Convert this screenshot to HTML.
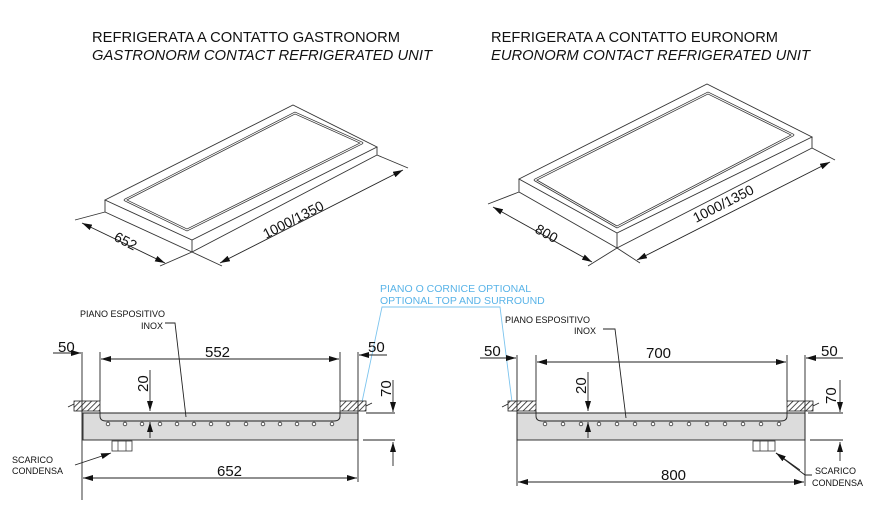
<!DOCTYPE html>
<html><head><meta charset="utf-8"><style>
html,body{margin:0;padding:0;background:#fff}
svg{display:block}
text{font-family:"Liberation Sans",Arial,sans-serif;fill:#111}
</style></head><body>
<svg width="881" height="516" viewBox="0 0 881 516" xmlns="http://www.w3.org/2000/svg">
<defs>
<pattern id="h" width="4" height="4" patternUnits="userSpaceOnUse" patternTransform="rotate(45)">
<rect width="4" height="4" fill="#fff"/><line x1="0" y1="0" x2="0" y2="4" stroke="#222" stroke-width="1.6"/></pattern>
<marker id="a" viewBox="0 0 10 6" refX="10" refY="3" markerWidth="10" markerHeight="6" orient="auto-start-reverse" markerUnits="userSpaceOnUse">
<path d="M0,0 L10,3 L0,6 z" fill="#111"/></marker>
</defs>

<text x="92" y="42" font-size="15" textLength="308" lengthAdjust="spacingAndGlyphs">REFRIGERATA A CONTATTO GASTRONORM</text>
<text x="92" y="60" font-size="15" font-style="italic" textLength="340" lengthAdjust="spacingAndGlyphs">GASTRONORM CONTACT REFRIGERATED UNIT</text>
<text x="491" y="42" font-size="15" textLength="287" lengthAdjust="spacingAndGlyphs">REFRIGERATA A CONTATTO EURONORM</text>
<text x="491" y="60" font-size="15" font-style="italic" textLength="319" lengthAdjust="spacingAndGlyphs">EURONORM CONTACT REFRIGERATED UNIT</text>

<g fill="none" stroke="#333" stroke-width="0.9">
<polygon points="105,200 293,105 377,147 192,240" fill="#fff"/>
<polyline points="105,200 105,212 192,252 377,155 377,147"/>
<line x1="192" y1="240" x2="192" y2="252"/>
<polygon points="125,200 295,113 362,143 187,230" stroke-linejoin="round" stroke-width="2.5"/>
<polygon points="125,200 295,113 362,143 187,230" stroke="#fff" stroke-width="1" stroke-linejoin="round"/>
<line x1="82" y1="223" x2="165" y2="263" marker-start="url(#a)" marker-end="url(#a)" stroke="#222"/>
<line x1="75" y1="220" x2="105" y2="212"/><line x1="160" y1="266" x2="192" y2="252"/>
<line x1="220" y1="263" x2="403" y2="170" marker-start="url(#a)" marker-end="url(#a)" stroke="#222"/>
<line x1="192" y1="252" x2="222" y2="266"/><line x1="377" y1="155" x2="408" y2="168"/>

<polygon points="519,179 707,84 812,137 617,233" fill="#fff"/>
<polyline points="519,179 519,192 617,248 812,148 812,137"/>
<line x1="617" y1="233" x2="617" y2="248"/>
<polygon points="535,180 708,93 793,135 617,227" stroke-linejoin="round" stroke-width="2.5"/>
<polygon points="535,180 708,93 793,135 617,227" stroke="#fff" stroke-width="1" stroke-linejoin="round"/>
<line x1="493" y1="207" x2="592" y2="262" marker-start="url(#a)" marker-end="url(#a)" stroke="#222"/>
<line x1="488" y1="204" x2="519" y2="192"/><line x1="588" y1="266" x2="617" y2="248"/>
<line x1="637" y1="260" x2="830" y2="162" marker-start="url(#a)" marker-end="url(#a)" stroke="#222"/>
<line x1="617" y1="248" x2="640" y2="263"/><line x1="812" y1="148" x2="835" y2="160"/>
</g>
<text font-size="14" transform="translate(113,240) rotate(27)">652</text>
<text font-size="14" transform="translate(266,239) rotate(-27)">1000/1350</text>
<text font-size="14" transform="translate(534,232) rotate(29)">800</text>
<text font-size="14" transform="translate(696,223) rotate(-27)">1000/1350</text>

<g stroke="#7cc4ee" stroke-width="0.9" fill="none">
<polyline points="362,402 382,307 500,307 512,402"/>
</g>
<text x="380" y="292" font-size="10.5" style="fill:#5ab4e8">PIANO O CORNICE OPTIONAL</text>
<text x="380" y="304" font-size="10.5" style="fill:#5ab4e8">OPTIONAL TOP AND SURROUND</text>

<rect x="83" y="413" width="275" height="27" fill="#dcdcdc" stroke="#222" stroke-width="0.9"/>
<path d="M100,411 L100,416 Q100,421 106,421 L334,421 Q340,421 340,416 L340,411" fill="none" stroke="#222" stroke-width="0.9"/>
<line x1="83" y1="413" x2="358" y2="413" stroke="#222"/>
<rect x="74" y="401" width="26" height="10" fill="url(#h)" stroke="#222" stroke-width="0.8"/>
<rect x="340" y="401" width="26" height="10" fill="url(#h)" stroke="#222" stroke-width="0.8"/>
<g fill="#fff" stroke="#333" stroke-width="0.8">
<circle cx="108" cy="424" r="1.8"/><circle cx="125" cy="424" r="1.8"/><circle cx="142" cy="424" r="1.8"/><circle cx="160" cy="424" r="1.8"/><circle cx="177" cy="424" r="1.8"/><circle cx="194" cy="424" r="1.8"/><circle cx="211" cy="424" r="1.8"/><circle cx="228" cy="424" r="1.8"/><circle cx="246" cy="424" r="1.8"/><circle cx="263" cy="424" r="1.8"/><circle cx="280" cy="424" r="1.8"/><circle cx="297" cy="424" r="1.8"/><circle cx="314" cy="424" r="1.8"/><circle cx="332" cy="424" r="1.8"/>
</g>
<rect x="112" y="441" width="20" height="10" fill="#fff" stroke="#333" stroke-width="0.8"/>
<line x1="118" y1="441" x2="118" y2="451" stroke="#333" stroke-width="0.7"/><line x1="126" y1="441" x2="126" y2="451" stroke="#333" stroke-width="0.7"/>
<g stroke="#222" stroke-width="0.9" fill="none">
<line x1="82" y1="352" x2="82" y2="500"/>
<line x1="100" y1="352" x2="100" y2="401"/>
<line x1="340" y1="352" x2="340" y2="401"/>
<line x1="358" y1="352" x2="358" y2="482"/>
<line x1="101" y1="359" x2="339" y2="359" marker-start="url(#a)" marker-end="url(#a)"/>
<line x1="53" y1="353" x2="81" y2="353" marker-end="url(#a)"/>
<line x1="387" y1="355" x2="359" y2="355" marker-end="url(#a)"/>
<line x1="150" y1="370" x2="150" y2="411" marker-end="url(#a)"/>
<line x1="150" y1="438" x2="150" y2="422" marker-end="url(#a)"/>
<line x1="393" y1="380" x2="393" y2="412" marker-end="url(#a)"/>
<line x1="393" y1="466" x2="393" y2="442" marker-end="url(#a)"/>
<line x1="366" y1="413" x2="395" y2="413"/>
<line x1="363" y1="440" x2="395" y2="440"/>
<line x1="83" y1="478" x2="357" y2="478" marker-start="url(#a)" marker-end="url(#a)"/>
<polyline points="165,323 175,323 186,417"/>
<line x1="75" y1="465" x2="111" y2="453" marker-end="url(#a)"/>
<line x1="68" y1="407" x2="74" y2="404"/><line x1="366" y1="406" x2="372" y2="403"/>
</g>
<text x="80" y="317" font-size="9">PIANO ESPOSITIVO</text>
<text x="141" y="329" font-size="9">INOX</text>
<text x="12" y="463" font-size="9">SCARICO</text>
<text x="12" y="474" font-size="9">CONDENSA</text>
<text x="58" y="352" font-size="15">50</text>
<text x="368" y="352" font-size="15">50</text>
<text x="205" y="357" font-size="15">552</text>
<text x="217" y="476" font-size="15">652</text>
<text font-size="15" transform="translate(148,392) rotate(-90)">20</text>
<text font-size="15" transform="translate(391,397) rotate(-90)">70</text>

<rect x="517" y="413" width="288" height="27" fill="#dcdcdc" stroke="#222" stroke-width="0.9"/>
<path d="M536,411 L536,416 Q536,421 542,421 L781,421 Q787,421 787,416 L787,411" fill="none" stroke="#222" stroke-width="0.9"/>
<line x1="517" y1="413" x2="805" y2="413" stroke="#222"/>
<rect x="508" y="401" width="28" height="10" fill="url(#h)" stroke="#222" stroke-width="0.8"/>
<rect x="787" y="401" width="26" height="10" fill="url(#h)" stroke="#222" stroke-width="0.8"/>
<g fill="#fff" stroke="#333" stroke-width="0.8">
<circle cx="545" cy="424" r="1.8"/><circle cx="563" cy="424" r="1.8"/><circle cx="581" cy="424" r="1.8"/><circle cx="599" cy="424" r="1.8"/><circle cx="617" cy="424" r="1.8"/><circle cx="635" cy="424" r="1.8"/><circle cx="653" cy="424" r="1.8"/><circle cx="671" cy="424" r="1.8"/><circle cx="689" cy="424" r="1.8"/><circle cx="707" cy="424" r="1.8"/><circle cx="725" cy="424" r="1.8"/><circle cx="743" cy="424" r="1.8"/><circle cx="761" cy="424" r="1.8"/><circle cx="779" cy="424" r="1.8"/>
</g>
<rect x="753" y="441" width="22" height="10" fill="#fff" stroke="#333" stroke-width="0.8"/>
<line x1="760" y1="441" x2="760" y2="451" stroke="#333" stroke-width="0.7"/><line x1="768" y1="441" x2="768" y2="451" stroke="#333" stroke-width="0.7"/>
<g stroke="#222" stroke-width="0.9" fill="none">
<line x1="517" y1="355" x2="517" y2="486"/>
<line x1="536" y1="355" x2="536" y2="401"/>
<line x1="787" y1="355" x2="787" y2="401"/>
<line x1="805" y1="355" x2="805" y2="486"/>
<line x1="537" y1="362" x2="786" y2="362" marker-start="url(#a)" marker-end="url(#a)"/>
<line x1="480" y1="358" x2="516" y2="358" marker-end="url(#a)"/>
<line x1="843" y1="358" x2="806" y2="358" marker-end="url(#a)"/>
<line x1="588" y1="372" x2="588" y2="411" marker-end="url(#a)"/>
<line x1="588" y1="438" x2="588" y2="422" marker-end="url(#a)"/>
<line x1="840" y1="380" x2="840" y2="412" marker-end="url(#a)"/>
<line x1="840" y1="461" x2="840" y2="442" marker-end="url(#a)"/>
<line x1="808" y1="413" x2="843" y2="413"/>
<line x1="810" y1="440" x2="843" y2="440"/>
<line x1="518" y1="482" x2="804" y2="482" marker-start="url(#a)" marker-end="url(#a)"/>
<polyline points="603,329 615,329 626,418"/>
<polyline points="812,475 805,475 776,453"/>
<line x1="800" y1="470" x2="776" y2="453" marker-end="url(#a)"/>
<line x1="502" y1="407" x2="508" y2="404"/><line x1="813" y1="406" x2="819" y2="403"/>
</g>
<text x="505" y="323" font-size="9">PIANO ESPOSITIVO</text>
<text x="574" y="334" font-size="9">INOX</text>
<text x="815" y="474" font-size="9">SCARICO</text>
<text x="812" y="486" font-size="9">CONDENSA</text>
<text x="484" y="356" font-size="15">50</text>
<text x="821" y="356" font-size="15">50</text>
<text x="646" y="358" font-size="15">700</text>
<text x="661" y="480" font-size="15">800</text>
<text font-size="15" transform="translate(586,394) rotate(-90)">20</text>
<text font-size="15" transform="translate(836,404) rotate(-90)">70</text>
</svg>
</body></html>
